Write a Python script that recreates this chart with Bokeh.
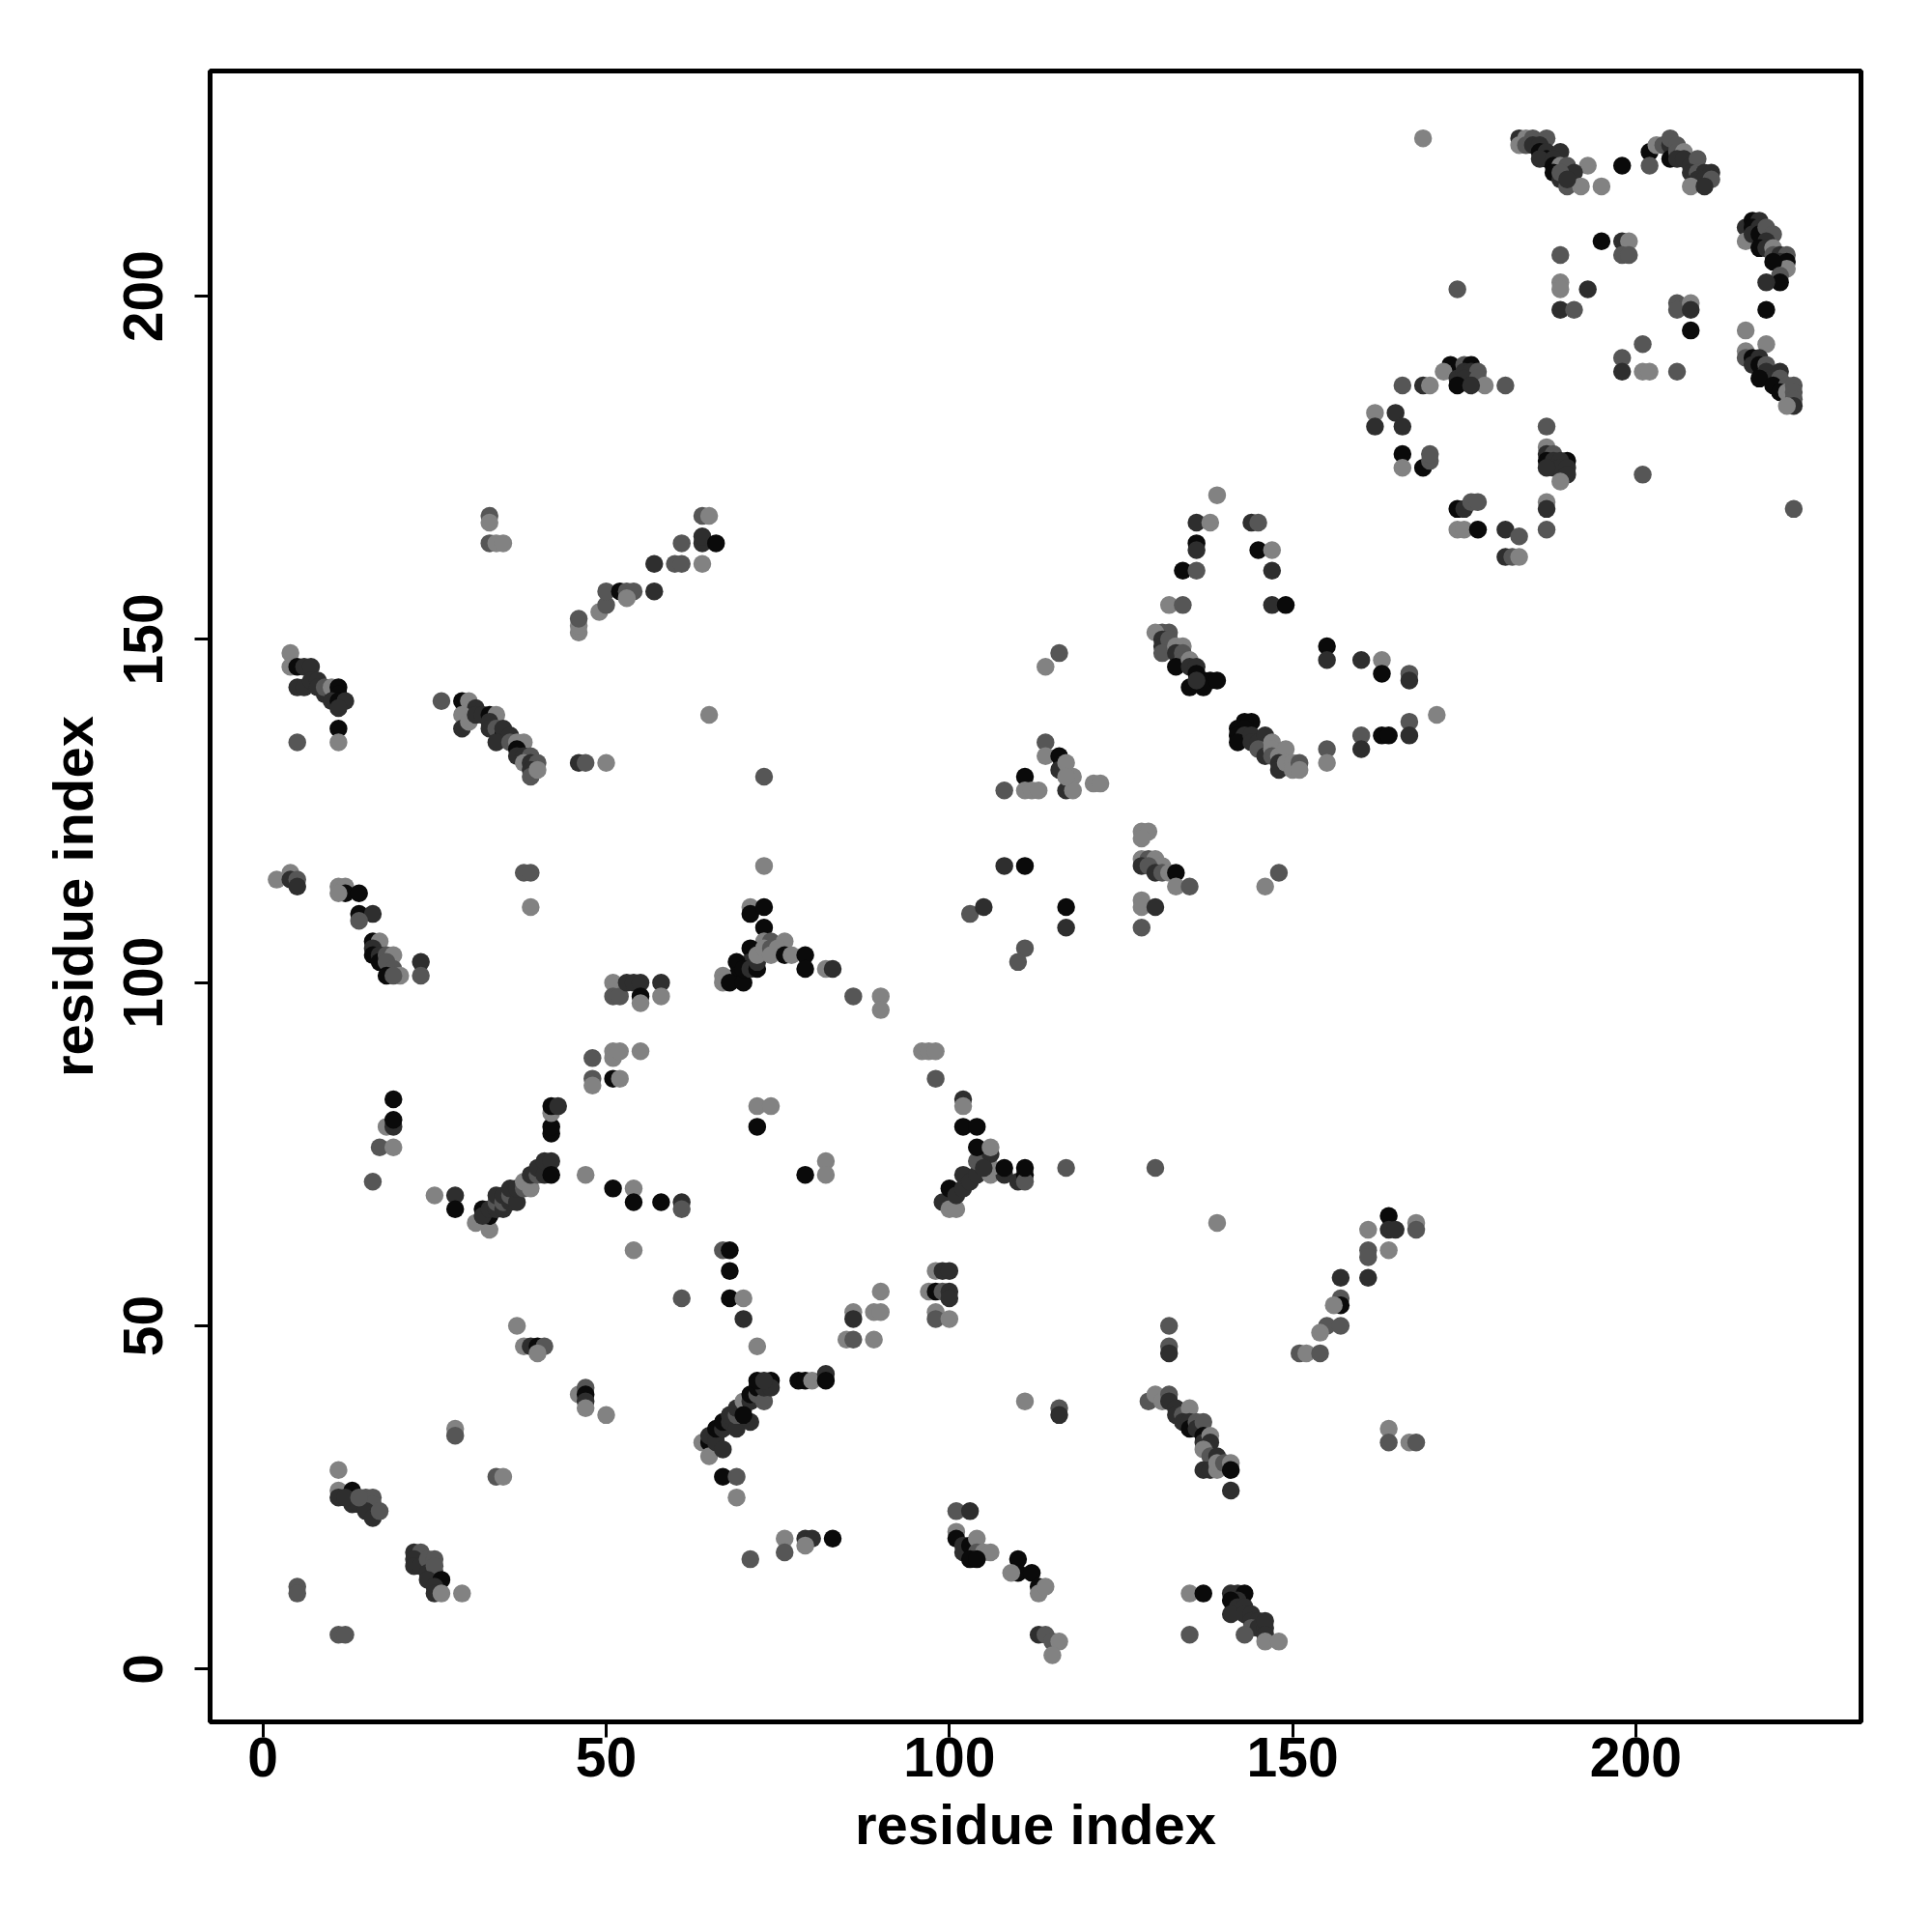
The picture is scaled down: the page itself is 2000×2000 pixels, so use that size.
from bokeh.plotting import figure
from bokeh.models import Range1d, FixedTicker, ColumnDataSource
from bokeh.embed import file_html
from bokeh.resources import INLINE

# (residue i, residue j, shade level 0=black .. 3=light grey)
low_left = [(11,5,2),(12,5,2),(5,12,2),(5,11,2),
 (11,29,3),(11,26,3),(11,25,1),(13,26,0),(13,24,1),(12,25,1),(15,25,2),(16,25,2),(14,24,1),(16,24,2),(15,23,1),(16,22,1),(17,23,2),(14,25,2),
 (22,17,1),(23,17,2),(22,16,1),(22,15,1),(23,15,1),(24,16,2),(25,16,2),(24,14,1),(25,14,1),(25,15,2),(24,13,1),(26,13,0),(25,12,1),(25,11,1),(26,11,3),(29,11,3),
 (28,35,3),(28,34,2),(34,28,2),(35,28,3),
 (37,50,3),(38,47,3),(39,47,1),(40,47,0),(41,47,2),(40,46,3),
 (46,40,3),(47,41,2),(47,40,0),(47,39,1),(47,38,3),(50,37,3)]

left_mid = [(16,71,2),(17,76,2),(19,76,3),(18,79,3),(19,79,1),(19,80,0),(19,83,0),
 (25,69,3),(28,69,1),(28,67,0),
 (31,65,3),(32,67,0),(33,64,3),(33,66,0),(32,66,1),(33,67,1),(34,67,1),(34,68,2),(34,69,1),(35,67,1),(35,68,2),(35,69,1),(36,68,1),(36,69,2),(36,70,1),(37,68,1),(37,70,1),(38,70,2),(38,71,3),(39,70,3),(39,72,1),(40,72,2),(40,73,1),(41,72,1),(41,74,1),(42,74,1),(42,72,0),(47,72,3),
 (42,78,0),(42,79,0),(42,81,3),(42,82,0),(43,82,1),
 (51,70,0),(54,70,3),(54,68,0),(54,61,3),(58,68,0),(61,68,1),(61,67,2),
 (61,54,2),(67,61,2),(68,61,0),(68,58,0),(68,54,0),(70,54,3),(70,51,1),(72,47,3)]

centre_low = [(64,33,3),(65,33,0),(65,31,3),(65,34,1),(66,34,1),(66,33,1),(66,35,0),(67,32,1),(67,35,1),(67,36,0),(68,36,1),(68,37,1),(69,35,1),(69,37,2),(69,38,1),(70,38,1),(70,39,3),(71,36,1),(71,39,1),(71,40,0),(72,40,2),(72,41,0),(73,39,2),(73,41,1),(72,42,0),(74,42,0),(74,41,1),(73,42,1),(70,37,0),
 (67,28,0),(69,28,2),(69,25,3),
 (78,42,0),(79,42,0),(80,42,3),(82,43,1),(82,42,0),
 (79,72,0),(82,74,3),(82,72,3),(72,82,3),(74,82,3),(72,79,0),
 (86,52,3),(86,51,1),(89,52,3),(90,52,3),(90,55,3),(85,48,3),(86,48,2),(89,48,3),
 (98,58,3),(99,58,1),(100,58,1),(97,55,3),(98,55,0),(99,55,2),(100,55,1),(100,54,1),(98,52,3),(98,51,2),(100,51,3),
 (111,39,3),(116,38,2),(116,37,1),
 (76,19,3),(76,17,2),(79,19,1),(80,19,1),(79,18,3),(83,19,0),(71,16,2)]

right_low = [(101,23,2),(103,23,1),(101,20,3),(101,19,0),(102,18,1),(102,17,1),(103,18,0),(104,19,3),(104,17,2),(105,17,3),(106,17,3),(103,16,0),(104,16,0),(110,16,0),(110,14,0),(109,14,3),(112,14,0),(113,12,0),(113,11,3),(114,12,3),
 (113,5,1),(114,5,2),(115,4,2),(116,4,3),(115,2,3),
 (117,73,2),(130,73,2),(139,65,3),
 (164,66,0),(161,64,3),(164,64,1),(165,64,1),(168,65,3),(168,64,2),(161,61,2),(161,60,2),(164,61,3),(157,57,1),(161,57,1),(157,54,2),(157,53,0),(156,53,3),(155,50,2),(157,50,2),(154,49,3),(151,46,2),(152,46,3),(154,46,2),
 (132,50,2),(132,47,2),(132,46,1),
 (129,39,2),(130,40,3),(131,39,3),(132,40,2),(132,39,1),(133,38,1),(133,37,1),(134,37,2),(135,38,3),(134,36,1),(135,36,1),(135,35,0),(136,36,2),(136,35,1),(137,36,2),(137,34,0),(137,33,1),(138,34,3),(138,33,1),(137,32,3),(138,31,2),(139,31,1),(137,29,1),(138,29,1),(139,29,3),(139,30,3),(140,30,2),(141,30,3),(141,29,0),(141,26,1),
 (164,35,3),(164,33,2),(167,33,3),(168,33,2),
 (135,11,3),(137,11,0),(135,5,2),
 (141,11,1),(142,11,1),(143,11,0),(142,10,1),(141,10,0),(142,9,1),(143,9,1),(141,8,1),(143,8,1),(144,8,1),(144,7,1),(145,7,1),(144,6,2),(145,6,1),(146,6,1),(146,7,1),(143,5,2),(146,5,1),(146,4,3),(148,4,3)]

centre_mid = [(99,68,1),(100,70,0),(100,67,3),(101,67,3),(101,69,1),(102,70,1),(102,72,1),(103,71,1),(104,72,1),(106,72,3),(108,72,1),(110,71,1),(111,72,0),(111,71,2),(104,74,2),(106,73,3),(106,75,1),(104,76,0),(106,76,3),(108,73,0),(111,73,0),(105,73,1),
 (102,79,0),(104,79,0),(102,83,1),(102,82,3),(98,86,2),(96,90,3),(97,90,3),(98,90,3),
 (48,89,2),(48,86,2),(48,85,3),(51,90,3),(51,89,3),(51,86,0),(52,86,3),(52,90,3),(55,90,3),
 (51,100,3),(51,98,2),(52,98,2),(53,100,1),(54,100,1),(55,100,1),(55,98,0),(55,97,3),(58,100,1),(58,98,3),
 (71,111,3),(71,110,0),(73,111,0),(73,108,0),(73,106,3),(74,106,2),(76,106,3),(71,105,0),(71,103,1),(69,103,0),(69,101,0),(67,101,3),(67,100,3),(68,100,0),(70,100,0),(70,102,0),(71,102,1),(72,102,0),(72,103,1),(72,104,3),(73,105,3),(74,105,2),(74,104,3),(75,105,3),(76,104,0),(77,104,3),(79,104,0),(79,102,0),(82,102,3),(83,102,1),(86,98,2),(90,98,3),(90,96,3),
 (2,115,3),(4,116,3),(4,115,1),(5,115,2),(5,114,1),
 (11,114,3),(12,114,3),(12,113,0),(11,113,3),(14,113,0),(14,110,0),(16,110,1),(14,109,2),
 (16,106,0),(17,106,3),(16,105,1),(16,104,0),(17,104,1),(17,103,0),(18,104,2),(19,104,3),(18,103,2),(19,102,2),(20,101,3),(18,101,0),(19,101,2),(23,103,1),(23,101,2),
 (38,116,2),(39,116,2),(39,111,3)]

upper_left = [(4,148,3),(4,146,3),(5,146,0),(6,146,1),(7,146,1),(5,143,1),(6,143,1),(7,144,1),(8,144,1),(8,143,1),(9,142,1),(9,143,2),(10,143,3),(11,143,0),(11,142,0),(10,141,1),(11,141,0),(12,141,1),(11,140,1),(11,137,0),(11,135,3),(5,135,2),
 (26,141,2),(29,141,0),(30,141,3),(31,140,1),(29,139,3),(29,137,1),(30,138,3),(31,139,1),(32,139,1),(33,139,0),(34,139,3),(33,138,1),(33,137,1),(34,137,2),(35,136,0),(35,137,1),(36,136,1),(34,135,1),(36,135,2),(37,135,3),(38,135,3),(37,134,0),(37,133,1),(38,133,1),(39,133,2),(38,132,3),(39,132,1),(40,132,2),(39,131,1),(39,130,2),(40,131,3),
 (46,132,1),(47,132,2),(50,132,3),
 (33,168,2),(33,167,3),(33,164,2),(34,164,3),(35,164,3),
 (46,151,3),(46,152,3),(46,153,2),(49,154,3),(50,155,2),(50,157,2),(52,157,0),(53,157,2),(54,157,2),(53,156,3),(57,157,1),(57,161,1),(60,161,2),(61,161,2),(64,161,3),(61,164,2),(64,164,1),(64,165,1),(66,164,0),(64,168,2),(65,168,3),
 (65,139,3),(73,130,2),(73,117,3)]

middle = [(103,110,2),(105,111,1),(108,117,1),(111,117,0),(111,105,2),(110,103,2),
 (108,128,2),(111,130,0),(111,128,3),(112,128,3),(113,128,3),
 (114,135,2),(114,133,3),(116,133,0),(116,131,1),(117,132,3),(118,130,3),(117,128,1),(118,128,3),(121,129,3),(122,129,3),(117,130,3),
 (114,146,3),(116,148,2),(117,111,0),(117,108,1),
 (128,122,3),(129,122,3),(128,121,3),(128,118,3),(129,118,2),(130,118,3),(131,117,3),(128,117,1),(129,117,2),(130,116,1),(131,116,2),(132,116,3),(133,116,0),(133,114,3),(135,114,2),(128,112,3),(128,111,3),(130,111,1),(128,108,2),
 (146,114,3),(148,116,2),
 (131,151,2),(132,151,2),(130,151,3),(131,150,1),(131,149,1),(132,150,2),(131,148,2),(133,149,3),(134,149,3),(133,148,1),(134,148,2),(134,147,2),(133,146,0),(135,147,3),(135,146,1),(136,146,1),(136,145,0),(135,143,0),(137,144,0),(138,144,0),(137,143,0),(139,144,0),(136,144,1),
 (155,149,0),(155,147,1),(160,147,1),(163,147,3),(163,145,0),(167,145,2),(167,144,1),(171,139,3),(167,138,2),(167,136,1),(160,136,2),(160,134,1),(163,136,0),(164,136,0),(155,134,2),(155,132,3),
 (144,138,0),(143,138,0),(142,137,0),(143,137,0),(142,136,0),(143,136,1),(142,135,0),(144,136,1),(144,135,1),(145,135,1),(146,136,1),(145,134,2),(146,133,1),(147,135,3),(147,134,3),(147,133,2),(148,133,3),(149,134,3),(148,132,1),(148,131,1),(149,132,3),(150,132,3),(150,131,3),(151,132,2),(151,131,3)]

upper_mid = [(132,155,3),(134,155,2),(147,155,1),(149,155,0),(134,160,0),(136,160,2),(147,160,1),(136,164,0),(136,163,1),(145,163,0),(147,163,3),(136,167,1),(138,167,3),(144,167,1),(145,167,2),(139,171,3),
 (162,183,3),(162,181,1),(165,183,1),(166,181,1),(166,177,0),(166,175,3),(169,175,0),(170,176,2),(170,177,2),
 (166,187,2),(169,187,1),(170,187,3),
 (174,169,0),(174,166,3),(175,169,1),(176,170,2),(177,170,2),(175,166,3),(177,166,0),(181,166,1),(183,165,2),(181,162,1),(182,162,2),(183,162,3),
 (173,190,0),(172,189,3),(175,190,2),(176,190,0),(174,188,1),(175,189,1),(176,189,1),(177,189,2),(175,188,1),(177,188,2),(178,187,3),(174,187,0),(176,187,1),(181,187,2),
 (187,181,2),(187,178,3),(187,177,1),(188,177,2),(190,176,0),(187,176,0),(188,176,1),(189,176,1),(188,175,1),(189,175,1),(190,175,1),(187,175,1),(190,174,1),(189,173,3),
 (187,170,3),(187,169,1),(187,166,2),(169,223,3),(174,201,2)]

upper_right = [(183,223,1),(184,223,3),(185,223,2),(187,223,2),(183,222,3),(184,222,2),(185,222,1),(186,222,1),(186,221,0),(187,221,1),(187,220,0),(186,220,1),(189,221,1),(188,220,1),(188,219,0),(189,219,3),(190,219,2),(193,219,3),(188,218,0),(189,217,1),(191,218,1),(190,216,2),(192,216,3),(195,216,3),(189,218,2),(190,217,1),
 (198,219,0),
 (202,221,0),(202,219,2),(203,222,3),(204,222,2),(205,222,1),(205,223,2),(206,222,2),(205,220,0),(206,221,2),(207,221,3),(206,220,1),(207,220,1),(208,219,1),(209,220,2),(208,218,1),(209,218,2),(210,218,1),(211,218,1),(209,217,1),(210,217,1),(211,217,2),(208,216,3),(210,216,1),
 (216,210,1),(217,211,0),(218,211,1),(217,210,0),(218,210,1),(216,208,3),(217,209,1),(218,209,0),(219,210,2),(220,209,2),(219,208,1),(218,207,0),(219,207,1),(220,207,3),(220,206,2),(221,206,1),(222,206,2),(221,205,1),(222,205,0),(222,204,3),(220,205,0),(221,203,2),(221,202,0),(219,202,1),
 (219,198,0),(216,195,3),
 (216,192,3),(216,191,2),(217,191,0),(217,190,1),(219,193,3),(218,191,1),(218,190,0),(219,190,2),(219,189,1),(220,188,1),(221,189,1),(221,188,2),(218,188,0),(220,187,0),(222,187,2),(221,186,0),(222,186,3),(223,187,2),(223,186,2),(223,185,2),(223,184,1),(222,184,3),
 (223,169,2),
 (189,206,2),(195,208,0),(198,208,1),(199,208,3),(198,206,2),(199,206,2),
 (189,202,3),(189,201,3),(193,201,1),(189,198,1),(191,198,2),
 (206,199,2),(206,198,2),(208,199,3),(208,198,1),(208,195,0),
 (201,193,2),(198,191,2),(198,189,1),(201,189,3),(202,189,3),(206,189,2),
 (201,174,2)]

shade_colours = ["#0a0a0a", "#2e2e2e", "#565656", "#828282"]
tick_values = [0, 50, 100, 150, 200]

groups = [low_left, left_mid, centre_low, right_low, centre_mid, upper_left, middle, upper_mid, upper_right]
xs, ys, cs = [], [], []
for g in groups:
    for (a, b, s) in g:
        xs.append(a); ys.append(b); cs.append(shade_colours[s])
src = ColumnDataSource(dict(x=xs, y=ys, c=cs))

p = figure(frame_width=1709, frame_height=1709,
           x_range=Range1d(-7.7, 232.8), y_range=Range1d(-7.7, 232.8),
           output_backend="svg", toolbar_location=None,
           min_border_left=217, min_border_top=73, min_border_right=30, min_border_bottom=120)
p.background_fill_color = "white"
p.border_fill_color = "white"
p.grid.visible = False
p.outline_line_color = "black"
p.outline_line_width = 5

p.scatter("x", "y", source=src, size=18.5, fill_color="c", line_color=None)

for ax in (p.xaxis[0], p.yaxis[0]):
    ax.ticker = FixedTicker(ticks=tick_values)
    ax.axis_line_color = None
    ax.minor_tick_line_color = None
    ax.major_tick_line_width = 3
    ax.major_tick_line_color = "black"
    ax.major_tick_in = 0
    ax.major_tick_out = 16
    ax.major_label_text_font = "Liberation Sans"
    ax.major_label_text_font_style = "bold"
    ax.major_label_text_font_size = "57px"
    ax.major_label_text_color = "black"
    ax.axis_label = "residue index"
    ax.axis_label_text_font = "Liberation Sans"
    ax.axis_label_text_font_style = "bold"
    ax.axis_label_text_font_size = "58px"
    ax.axis_label_text_color = "black"

p.xaxis.major_label_standoff = 0
p.xaxis.axis_label_standoff = 14
p.yaxis.major_label_orientation = "vertical"
p.yaxis.major_label_standoff = 33
p.yaxis.axis_label_standoff = 18

open("out.html", "w").write(file_html(p, INLINE))
